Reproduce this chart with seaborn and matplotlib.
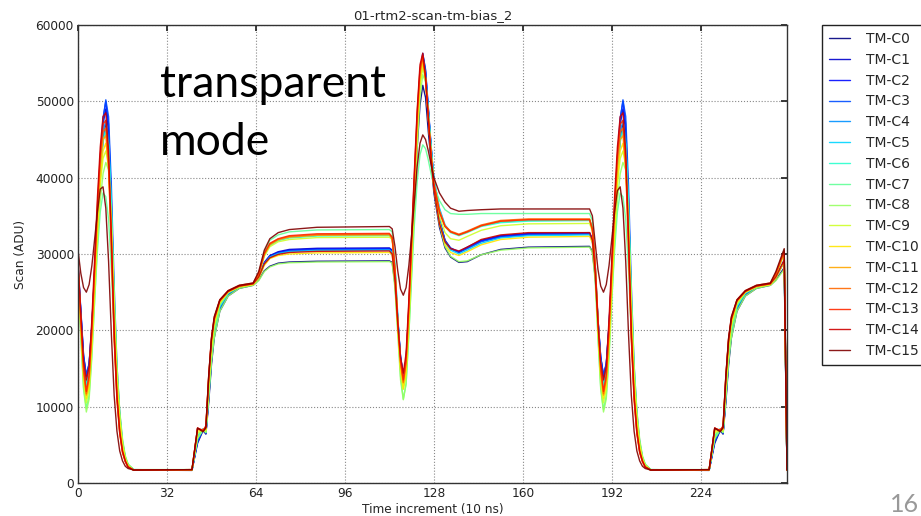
import numpy as np
import pandas as pd
import matplotlib
matplotlib.use("Agg")
import matplotlib.pyplot as plt
import seaborn as sns

# ---------------- data ----------------
time_x = [0, 1, 2, 3, 4, 5, 6, 7, 8, 9, 10, 11, 12, 13, 14, 15, 16, 17, 18, 20,
          41, 43, 45, 46, 47, 48, 49, 51, 54, 58, 63,
          65, 67, 69, 72, 76, 86, 112,
          113, 114, 115, 116, 117, 118, 119, 120, 121, 122, 123, 124, 125, 126, 127, 128,
          130, 132, 134, 137, 140, 145, 152, 162, 184,
          185, 186, 187, 188, 189, 190, 191, 192, 193, 194, 195, 196, 197, 198, 199, 200,
          201, 202, 203, 204, 206,
          227, 229, 231, 232, 233, 234, 235, 237, 240, 244, 249, 251, 254, 255]

tm_c0 = [27500, 21500, 15500, 13000, 14500, 19500, 26500, 33500, 40000, 45000, 47000, 44500, 35000, 23000, 14000, 8500, 5000, 3200, 2300, 1700,
         1650, 5200, 6900, 6400, 10500, 15500, 19000, 22500, 24500, 25500, 25900,
         26600, 27800, 28400, 28800, 28950, 29050, 29100,
         28900, 26000, 20500, 15800, 13500, 15000, 21000, 28500, 36500, 44000, 49500, 52100, 50500, 46000, 42000, 38000,
         33500, 30800, 29600, 28900, 29000, 29900, 30600, 30900, 31000,
         30300, 27000, 21000, 15800, 13200, 14800, 19800, 26500, 33500, 40000, 45000, 47000, 44500, 35000, 23000, 14000,
         8500, 5000, 3200, 2300, 1700,
         1650, 5200, 6900, 6400, 10500, 15500, 19000, 22500, 24500, 25500, 25900, 26600, 28200, 1700]

tm_c1 = [28500, 22500, 16500, 14100, 15500, 20500, 27500, 35000, 42000, 47000, 49000, 46000, 36000, 23500, 14000, 8500, 5000, 3200, 2300, 1700,
         1700, 5500, 7000, 6500, 11000, 16000, 19500, 22800, 24700, 25600, 26000,
         27000, 28900, 29800, 30300, 30600, 30750, 30800,
         30500, 27000, 21500, 16500, 14000, 16000, 22500, 30500, 39000, 47000, 53500, 56300, 54000, 49000, 44000, 39500,
         34500, 31800, 30800, 30300, 30900, 31800, 32400, 32700, 32800,
         32000, 28000, 21500, 16500, 14100, 15500, 20500, 27500, 35000, 42000, 47000, 49000, 46000, 36000, 23500, 14000,
         8500, 5000, 3200, 2300, 1700,
         1700, 5500, 7000, 6500, 11000, 16000, 19500, 22800, 24700, 25600, 26000, 27000, 29200, 1700]

tm_c2 = [28800, 22800, 16800, 14000, 15600, 20800, 28000, 35500, 42500, 47800, 50000, 47000, 37000, 24000, 14500, 8800, 5200, 3300, 2300, 1700,
         1700, 5600, 7100, 6500, 11200, 16200, 19600, 22900, 24800, 25700, 26000,
         27000, 28800, 29700, 30200, 30500, 30650, 30700,
         30400, 27000, 21500, 16600, 14200, 16200, 22800, 30800, 39200, 47000, 53300, 56000, 53800, 48800, 43800, 39300,
         34400, 31700, 30700, 30200, 30800, 31700, 32300, 32600, 32700,
         31900, 28000, 21500, 16500, 14000, 15600, 20800, 28000, 35500, 42500, 47800, 50000, 47000, 37000, 24000, 14500,
         8800, 5200, 3300, 2300, 1700,
         1700, 5600, 7100, 6500, 11200, 16200, 19600, 22900, 24800, 25700, 26000, 27000, 29100, 1700]

tm_c3 = [28600, 22600, 16600, 14100, 15700, 20600, 27500, 35000, 42000, 47500, 50200, 48000, 39000, 26000, 15500, 9300, 5500, 3400, 2400, 1750,
         1700, 5400, 7000, 6600, 11000, 16000, 19400, 22800, 24700, 25600, 26000,
         26900, 28700, 29600, 30100, 30400, 30550, 30600,
         30300, 26800, 21300, 16400, 14100, 16000, 22500, 30500, 39000, 47000, 53500, 56200, 54200, 49200, 44200, 39600,
         34600, 31800, 30700, 30200, 30700, 31600, 32200, 32500, 32600,
         31800, 27800, 21300, 16400, 14100, 15700, 20600, 27500, 35000, 42000, 47500, 50200, 48000, 39000, 26000, 15500,
         9300, 5500, 3400, 2400, 1750,
         1700, 5400, 7000, 6600, 11000, 16000, 19400, 22800, 24700, 25600, 26000, 26900, 29000, 1700]

tm_c4 = [28500, 21800, 15500, 13000, 14500, 19800, 27000, 34500, 41000, 46000, 47500, 45000, 36000, 23500, 14000, 8500, 5000, 3200, 2300, 1700,
         1700, 5800, 7000, 6600, 11500, 16500, 19800, 23000, 24800, 25700, 26000,
         27300, 29900, 31200, 31850, 32200, 32450, 32500,
         32200, 28500, 22000, 16000, 13000, 15000, 22000, 30500, 39000, 47000, 53000, 55500, 53500, 48800, 44000, 40000,
         36000, 33800, 32900, 32500, 32900, 33700, 34200, 34400, 34400,
         33500, 28800, 21500, 15600, 13000, 14500, 19800, 27000, 34500, 41000, 46000, 47500, 45000, 36000, 23500, 14000,
         8500, 5000, 3200, 2300, 1700,
         1700, 5800, 7000, 6600, 11500, 16500, 19800, 23000, 24800, 25700, 26000, 27300, 30200, 1700]

tm_c5 = [28000, 21200, 15200, 12900, 14400, 19500, 26500, 34000, 40500, 45000, 46500, 44500, 36000, 24000, 14500, 8800, 5200, 3300, 2300, 1700,
         1700, 6000, 7000, 6700, 12000, 17000, 20000, 23200, 24900, 25700, 26000,
         26900, 28700, 29600, 30050, 30300, 30450, 30500,
         30200, 26800, 21000, 15500, 12700, 14800, 21500, 30000, 38500, 46500, 52500, 55000, 53300, 48500, 43500, 39300,
         34300, 31500, 30500, 30000, 30500, 31400, 32100, 32400, 32500,
         31700, 27700, 21000, 15300, 12900, 14400, 19500, 26500, 34000, 40500, 45000, 46500, 44500, 36000, 24000, 14500,
         8800, 5200, 3300, 2300, 1700,
         1700, 6000, 7000, 6700, 12000, 17000, 20000, 23200, 24900, 25700, 26000, 26900, 29000, 1700]

tm_c6 = [28200, 21300, 15000, 12600, 14200, 19300, 26300, 33800, 40200, 44700, 46000, 44300, 36500, 24500, 15000, 9000, 5300, 3400, 2400, 1750,
         1700, 6200, 7100, 6800, 12200, 17200, 20200, 23300, 25000, 25700, 26000,
         27300, 29800, 31100, 31750, 32100, 32350, 32400,
         32100, 28300, 21800, 15600, 12600, 14600, 21500, 30000, 38500, 46300, 52300, 54800, 53000, 48500, 43800, 39800,
         35800, 33600, 32800, 32400, 32800, 33600, 34100, 34300, 34400,
         33500, 28700, 21300, 15300, 12600, 14200, 19300, 26300, 33800, 40200, 44700, 46000, 44300, 36500, 24500, 15000,
         9000, 5300, 3400, 2400, 1750,
         1700, 6200, 7100, 6800, 12200, 17200, 20200, 23300, 25000, 25700, 26000, 27300, 30100, 1700]

tm_c7 = [28000, 19500, 12500, 9800, 11500, 17000, 24000, 30500, 35500, 38000, 37500, 34500, 28000, 19500, 12500, 8000, 5000, 3300, 2400, 1750,
         1750, 6000, 7000, 6600, 11800, 16800, 20000, 23200, 24900, 25700, 26000,
         27400, 30300, 31800, 32500, 32900, 33150, 33200,
         32900, 28500, 21000, 14000, 11000, 13000, 19500, 27000, 34000, 39500, 43000, 44300, 43800, 42300, 40500, 39000,
         37000, 35800, 35300, 35200, 35200, 35300, 35300, 35300, 35300,
         34400, 28500, 19500, 12500, 9600, 11500, 17000, 24000, 30500, 35500, 38000, 37500, 34500, 28000, 19500, 12500,
         8000, 5000, 3300, 2400, 1750,
         1750, 6000, 7000, 6600, 11800, 16800, 20000, 23200, 24900, 25700, 26000, 27400, 30600, 1700]

tm_c8 = [27000, 19000, 12300, 9300, 11000, 16500, 24000, 31500, 37000, 40500, 42000, 41000, 35000, 25000, 15500, 9500, 5800, 3600, 2500, 1750,
         1750, 5800, 7000, 6600, 11000, 15800, 19000, 22500, 24500, 25500, 25900,
         26500, 27700, 28300, 28700, 28850, 28950, 29000,
         28800, 25500, 19500, 13500, 10900, 13000, 19500, 27500, 36000, 44000, 50500, 53500, 52500, 48500, 43500, 39000,
         34000, 31000, 29700, 29000, 29100, 29900, 30500, 30800, 30900,
         30200, 26500, 19000, 12300, 9300, 11000, 16500, 24000, 31500, 37000, 40500, 42000, 41000, 35000, 25000, 15500,
         9500, 5800, 3600, 2500, 1750,
         1750, 5800, 7000, 6600, 11000, 15800, 19000, 22500, 24500, 25500, 25900, 26500, 28000, 1700]

tm_c9 = [27800, 20300, 13500, 10500, 12300, 18000, 25500, 33000, 39000, 42500, 43500, 41500, 34000, 23000, 14000, 8500, 5000, 3200, 2300, 1700,
         1700, 6500, 7000, 6800, 12500, 17500, 20500, 23500, 25000, 25700, 26000,
         27200, 29700, 30950, 31600, 31900, 32150, 32200,
         31900, 27800, 21000, 15000, 12300, 14300, 21000, 29500, 38000, 46000, 52000, 54500, 52800, 48000, 43000, 39000,
         35000, 32800, 32000, 31800, 32300, 33100, 33700, 33950, 34000,
         33000, 28000, 20300, 13500, 10500, 12300, 18000, 25500, 33000, 39000, 42500, 43500, 41500, 34000, 23000, 14000,
         8500, 5000, 3200, 2300, 1700,
         1700, 6500, 7000, 6800, 12500, 17500, 20500, 23500, 25000, 25700, 26000, 27200, 30000, 1700]

tm_c10 = [27800, 20500, 14000, 11100, 12800, 18500, 26000, 33500, 39800, 43500, 44500, 42000, 33500, 22000, 13200, 8000, 4800, 3100, 2200, 1700,
          1700, 6800, 6900, 7000, 13000, 18000, 21000, 23700, 25000, 25700, 26000,
          26800, 28500, 29400, 29800, 30000, 30150, 30200,
          29900, 26300, 20300, 14800, 12300, 14500, 21500, 30000, 38500, 46500, 52500, 55000, 53000, 47800, 42800, 38500,
          34000, 31200, 30200, 29800, 30300, 31200, 31900, 32200, 32300,
          31500, 27500, 20500, 14000, 11100, 12800, 18500, 26000, 33500, 39800, 43500, 44500, 42000, 33500, 22000, 13200,
          8000, 4800, 3100, 2200, 1700,
          1700, 6800, 6900, 7000, 13000, 18000, 21000, 23700, 25000, 25700, 26000, 26800, 29000, 1700]

tm_c11 = [28500, 21000, 14500, 11500, 13500, 19500, 27500, 35500, 41500, 45000, 45500, 41000, 31000, 19500, 11500, 6800, 4200, 2900, 2100, 1700,
          1750, 7000, 7000, 7300, 13500, 18500, 21300, 23800, 25100, 25800, 26100,
          27300, 29900, 31200, 31850, 32200, 32450, 32500,
          32000, 27800, 21000, 15800, 13100, 15500, 22500, 31000, 39500, 47500, 53500, 55500, 53000, 48000, 43000, 39300,
          35600, 33600, 32900, 32500, 32900, 33700, 34300, 34500, 34500,
          33200, 28500, 21000, 14500, 11500, 13500, 19500, 27500, 35500, 41500, 45000, 45500, 41000, 31000, 19500, 11500,
          6800, 4200, 2900, 2100, 1700,
          1750, 7000, 7000, 7300, 13500, 18500, 21300, 23800, 25100, 25800, 26100, 27300, 30200, 1700]

tm_c12 = [28800, 21300, 14700, 11700, 13800, 20000, 28000, 36000, 42500, 46000, 46500, 41500, 31000, 19000, 11000, 6500, 4000, 2800, 2100, 1700,
          1750, 7100, 6900, 7400, 13800, 18800, 21500, 23900, 25100, 25800, 26100,
          27400, 30000, 31300, 31950, 32300, 32550, 32600,
          32100, 27800, 21000, 15800, 13200, 15800, 23000, 31500, 40000, 48000, 54000, 55800, 53000, 47800, 42800, 39200,
          35600, 33700, 33000, 32600, 33000, 33800, 34400, 34600, 34600,
          33300, 28700, 21300, 14700, 11700, 13800, 20000, 28000, 36000, 42500, 46000, 46500, 41500, 31000, 19000, 11000,
          6500, 4000, 2800, 2100, 1700,
          1750, 7100, 6900, 7400, 13800, 18800, 21500, 23900, 25100, 25800, 26100, 27400, 30300, 1700]

tm_c13 = [29000, 21800, 15200, 12000, 14200, 20500, 28500, 36500, 43000, 47000, 47500, 42500, 31500, 19000, 11000, 6500, 4000, 2800, 2100, 1700,
          1750, 7200, 6900, 7500, 14000, 19000, 21700, 24000, 25200, 25900, 26200,
          27500, 30100, 31400, 32000, 32400, 32650, 32700,
          32200, 28000, 21300, 16000, 13500, 16200, 23500, 32000, 40500, 48500, 54300, 56000, 53000, 47800, 42800, 39200,
          35500, 33600, 32900, 32500, 32900, 33700, 34300, 34500, 34500,
          33200, 28800, 21800, 15200, 12000, 14200, 20500, 28500, 36500, 43000, 47000, 47500, 42500, 31500, 19000, 11000,
          6500, 4000, 2800, 2100, 1700,
          1750, 7200, 6900, 7500, 14000, 19000, 21700, 24000, 25200, 25900, 26200, 27500, 30400, 1700]

tm_c14 = [29000, 22300, 16000, 13500, 15300, 21500, 29500, 37500, 44000, 48000, 48500, 43500, 32500, 20000, 11500, 6800, 4200, 2900, 2100, 1700,
          1750, 7200, 6800, 7200, 13800, 18800, 21500, 23900, 25100, 25800, 26100,
          27000, 28700, 29500, 29950, 30200, 30350, 30400,
          30000, 26500, 21000, 16500, 14400, 17000, 24000, 32500, 41000, 49000, 54800, 56300, 53300, 47800, 42500, 38500,
          34000, 31600, 30700, 30400, 30900, 31900, 32500, 32800, 32800,
          31800, 27500, 21000, 15800, 13500, 15300, 21500, 29500, 37500, 44000, 48000, 48500, 43500, 32500, 20000, 11500,
          6800, 4200, 2900, 2100, 1700,
          1750, 7200, 6800, 7200, 13800, 18800, 21500, 23900, 25100, 25800, 26100, 27000, 29200, 1700]

tm_c15 = [30500, 27500, 25600, 25000, 26000, 28500, 32000, 35500, 38500, 38800, 36000, 29000, 19500, 11500, 6800, 4200, 2900, 2200, 1900, 1700,
          1750, 7200, 6700, 7300, 14000, 19000, 21800, 24000, 25200, 25900, 26200,
          27700, 30500, 32000, 32800, 33200, 33500, 33600,
          33300, 31000, 27800, 25400, 24600, 25600, 28500, 32500, 37000, 41500, 44500, 45600, 45000, 43500, 41700, 40000,
          38000, 36800, 36000, 35600, 35700, 35800, 35900, 35900, 35900,
          35000, 31500, 28000, 25800, 25000, 26000, 28500, 32000, 35500, 38300, 38800, 36000, 29000, 19500, 11500, 6800,
          4200, 2900, 2200, 1900, 1700,
          1750, 7200, 6700, 7300, 14000, 19000, 21800, 24000, 25200, 25900, 26200, 27700, 30700, 1700]

series_names = ["TM-C0", "TM-C1", "TM-C2", "TM-C3", "TM-C4", "TM-C5", "TM-C6", "TM-C7",
                "TM-C8", "TM-C9", "TM-C10", "TM-C11", "TM-C12", "TM-C13", "TM-C14", "TM-C15"]
series_values = [tm_c0, tm_c1, tm_c2, tm_c3, tm_c4, tm_c5, tm_c6, tm_c7,
                 tm_c8, tm_c9, tm_c10, tm_c11, tm_c12, tm_c13, tm_c14, tm_c15]

x_ticks = [0, 32, 64, 96, 128, 160, 192, 224]
y_ticks = [0, 10000, 20000, 30000, 40000, 50000, 60000]

# ---------------- build long table ----------------
for n, v in zip(series_names, series_values):
    if len(v) != len(time_x):
        raise ValueError(f"{n}: {len(v)} values vs {len(time_x)} x")
frames = [pd.DataFrame({"x": time_x, "y": v, "series": n})
          for n, v in zip(series_names, series_values)]
df = pd.concat(frames, ignore_index=True)

# ---------------- style ----------------
sns.set_theme(style="white")
plt.rcParams["font.family"] = ["DejaVu Sans"]
plt.rcParams["legend.fancybox"] = False

cmap = plt.get_cmap("jet")
palette = [cmap(i / 15) for i in range(16)]

fig = plt.figure(figsize=(9.21, 5.16), dpi=100)
ax = fig.add_axes([78 / 921, 1 - 483 / 516, (787 - 78) / 921, (483 - 25) / 516])

sns.lineplot(data=df, x="x", y="y", hue="series", hue_order=series_names,
             palette=palette, estimator=None, sort=False, linewidth=1.0,
             alpha=0.9, ax=ax)

ax.set_xlim(0, 255)
ax.set_ylim(0, 60000)
ax.set_xticks(x_ticks)
ax.set_yticks(y_ticks)
ax.tick_params(labelsize=8.7, direction="in", length=4, top=True, right=True,
               colors="#222222", pad=3)
ax.grid(True, linestyle=":", color="#888888", linewidth=0.8)
for s in ax.spines.values():
    s.set_color("#333333")
    s.set_linewidth(1.0)

ax.set_xlabel("Time increment (10 ns)", fontsize=8.7, labelpad=2)
ax.set_ylabel("Scan (ADU)", fontsize=8.7, labelpad=6)
ax.set_title("01-rtm2-scan-tm-bias_2", fontsize=9.5, pad=4)

sns.move_legend(ax, "upper left", bbox_to_anchor=((822 - 78) / 709, 1.0),
                title=None, frameon=True, fontsize=10, borderaxespad=0,
                handlelength=1.5, labelspacing=0.49, handletextpad=1.2,
                borderpad=0.5)
leg = ax.get_legend()
leg.get_frame().set_edgecolor("#222222")
leg.get_frame().set_linewidth(1.0)
leg.get_frame().set_alpha(1)
for line in leg.get_lines():
    line.set_linewidth(1.0)

# slide annotations
fig.text(160 / 921, 1 - 97 / 516, "transparent", fontsize=32, family="Lato",
         color="black", va="baseline", ha="left")
fig.text(160 / 921, 1 - 155 / 516, "mode", fontsize=32, family="Lato",
         color="black", va="baseline", ha="left")
fig.text(919 / 921, 1 - 512 / 516, "16", fontsize=18, family="Lato",
         color="#999999", va="baseline", ha="right")

fig.savefig("out.png", dpi=100)
